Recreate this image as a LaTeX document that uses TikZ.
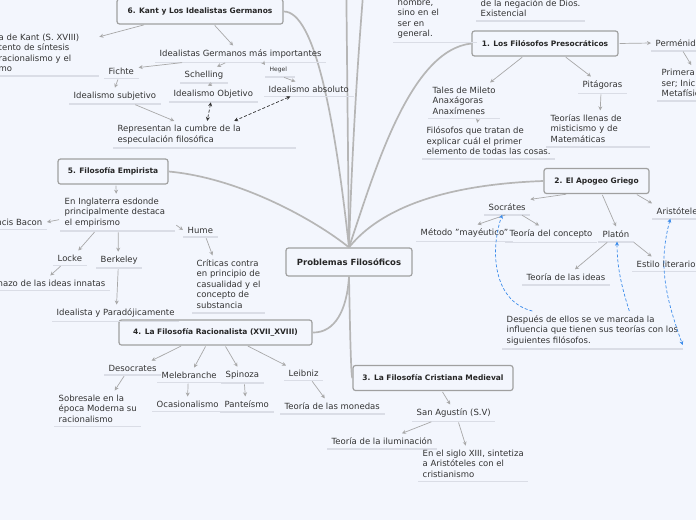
\documentclass[tikz,border=0pt]{standalone}
\usepackage{fontspec}
\setmainfont{DejaVu Sans}
\usetikzlibrary{arrows.meta}

\definecolor{bg}{RGB}{243,246,253}
\definecolor{ink}{RGB}{51,51,51}
\definecolor{rule}{RGB}{218,221,230}
\definecolor{arrowgray}{RGB}{168,168,168}
\definecolor{stemgray}{RGB}{182,182,182}
\definecolor{edgegray}{RGB}{160,160,160}
\definecolor{linkblue}{RGB}{60,140,235}

\begin{document}
\begin{tikzpicture}[x=1pt, y=-1pt,
    topic/.style={draw=edgegray, line width=1.2pt, rounded corners=2.5pt, fill=bg, text=black!85,
        font=\bfseries\fontsize{7.5}{9}\selectfont, minimum height=25pt, inner sep=0pt},
    hub/.style={topic, font=\bfseries\fontsize{8.5}{10}\selectfont, minimum height=28pt},
    idea/.style={font=\fontsize{8.5}{10.5}\selectfont, text=ink, align=left, anchor=west,
        inner xsep=4.5pt, inner ysep=4pt,
        append after command={(\tikzlastnode.south west) edge [draw=rule, line width=1.8pt] (\tikzlastnode.south east)}},
    mainline/.style={draw=stemgray, line width=1.7pt},
    childarrow/.style={draw=arrowgray, line width=0.7pt, shorten <=1pt, -{Stealth[length=4pt, width=4pt]}},
    bluelink/.style={draw=linkblue, line width=0.7pt, dash pattern=on 3pt off 2pt, -{Stealth[length=4pt, width=4pt]}},
    blacklink/.style={draw=black!80, line width=0.7pt, dash pattern=on 3pt off 2pt,
        {Stealth[length=4pt, width=4pt]}-{Stealth[length=4pt, width=4pt]}}]

    \useasboundingbox (0,0) rectangle (696,520);
    \clip (0,0) rectangle (696,520);
    \fill [bg] (0,0) rectangle (696,520);

    % ramas principales
    \node [hub, minimum width=126pt] (problemas) at (349,262) {Problemas Filosóficos};
    \node [topic, minimum width=166pt] (kant) at (200,11.5) {6. Kant y Los Idealistas Germanos};
    \node [topic, minimum width=146pt] (preso) at (545,43.5) {1. Los Filósofos Presocráticos};
    \node [topic, minimum width=105pt] (apogeo) at (596.5,181) {2. El Apogeo Griego};
    \node [topic, minimum width=110pt] (empirista) at (113,171.5) {5. Filosofía Empirista};
    \node [topic, minimum width=193pt] (racional) at (215.5,332.5) {4. La Filosofía Racionalista (XVII\_XVIII)};
    \node [topic, minimum width=160pt] (cristiana) at (433,378) {3. La Filosofía Cristiana Medieval};
    \coordinate (arriba1) at (346,-40);
    \coordinate (arriba2) at (366,-40);

    \draw [mainline] (problemas.north) .. controls (335,120) and (315,11) .. (kant.east);
    \draw [mainline] (problemas.north) .. controls (375,170) and (410,50) .. (preso.west);
    \draw [mainline] (problemas.north) .. controls (375,215) and (430,185) .. (apogeo.west);
    \draw [mainline] (problemas.north) .. controls (315,220) and (240,178) .. (empirista.east);
    \draw [mainline] (problemas.south) .. controls (347,310) and (335,333) .. (racional.east);
    \draw [mainline] (problemas.south) .. controls (350,330) and (351,378) .. (cristiana.west);
    \draw [mainline] (problemas.north) -- (arriba1);
    \draw [mainline] (problemas.north) .. controls (352,150) and (358,50) .. (arriba2);

    % textos sueltos arriba
    \node [idea, text width=75pt] (hombre) at (393,18.5) {hombre,\\sino en el\\ser en\\general.};
    \node [idea] (negacion) at (476,8) {de la negación de Dios.\\Existencial};

    % 6. Kant
    \node [idea, text width=96pt] (kanttxt) at (-6,53) {a de Kant (S. XVIII)\\tento de síntesis\\ racionalismo y el\\mo};
    \node [idea] (idealistas) at (155,54) {Idealistas Germanos más importantes};
    \node [idea] (fichte) at (104,71) {Fichte};
    \node [idea] (schelling) at (180,75) {Schelling};
    \node [idea, font=\fontsize{6}{7}\selectfont, text width=21pt] (hegel) at (265,70) {Hegel};
    \node [idea] (subjetivo) at (69,96) {Idealismo subjetivo};
    \node [idea] (objetivo) at (169,94) {Idealismo Objetivo};
    \node [idea] (absoluto) at (264,89) {Idealismo absoluto};
    \node [idea, text width=174pt] (cumbre) at (113,134.5) {Representan la cumbre de la\\especulación filosófica};

    \draw [childarrow] ([xshift=-55pt]kant.south) -- ([yshift=-7pt]kanttxt.north east);
    \draw [childarrow] ([xshift=14pt]kant.south) -- ([xshift=-7.5pt]idealistas.north);
    \draw [childarrow] ([xshift=-57.5pt]idealistas.south) -- ([yshift=-4pt]fichte.north east);
    \draw [childarrow] ([xshift=-14.5pt]idealistas.south) -- ([xshift=13pt]schelling.north);
    \draw [childarrow] ([xshift=22.5pt]idealistas.south) -- ([yshift=-2pt]hegel.north west);
    \draw [childarrow] ([xshift=-3pt]fichte.south) -- (subjetivo.north);
    \draw [childarrow] ([xshift=9pt]schelling.south) -- ([xshift=-5.5pt]objetivo.north);
    \draw [childarrow] ([xshift=3pt]hegel.south) -- ([xshift=-13.5pt]absoluto.north);
    \draw [childarrow] ([xshift=19.5pt]subjetivo.south) -- ([xshift=-30.5pt]cumbre.north);
    \draw [blacklink] ([xshift=-2.5pt]objetivo.south) -- ([xshift=2.5pt]cumbre.north);
    \draw [blacklink] ([xshift=-18.5pt]absoluto.south) -- ([xshift=29.5pt]cumbre.north);

    % 1. Presocraticos
    \node [idea] (permenides) at (651,43) {Perménides};
    \node [idea] (primera) at (657,83) {Primera\\ser; Inicio\\Metafísica};
    \node [idea] (tales) at (428,100.5) {Tales de Mileto\\Anaxágoras\\Anaxímenes};
    \node [idea] (filosofos) at (422,141) {Filósofos que tratan de\\explicar cuál el primer\\elemento de todas las cosas.};
    \node [idea] (pitagoras) at (578,85) {Pitágoras};
    \node [idea, text width=95pt] (misticismo) at (546,128.5) {Teorías llenas de\\misticismo y de\\Matemáticas};

    \draw [childarrow] (preso.east) -- (permenides.west);
    \draw [childarrow] ([xshift=2pt]permenides.south) -- ([xshift=8pt]primera.north);
    \draw [childarrow] ([xshift=-22pt]preso.south) -- ([xshift=26pt]tales.north);
    \draw [childarrow] ([xshift=14pt]tales.south) -- ([xshift=-11.5pt]filosofos.north);
    \draw [childarrow] ([xshift=20pt]preso.south) -- ([xshift=-11.5pt]pitagoras.north);
    \draw [childarrow] ([xshift=-1.5pt]pitagoras.south) -- ([xshift=2pt]misticismo.north);

    % 2. Apogeo griego
    \node [idea] (socrates) at (484,207) {Socrátes};
    \node [idea] (platon) at (598,234) {Platón};
    \node [idea] (aristoteles) at (652,211) {Aristóteles};
    \node [idea] (mayeutico) at (416,233) {Método "mayéutico"};
    \node [idea] (concepto) at (505,234) {Teoría del concepto};
    \node [idea] (ideas) at (522,277) {Teoría de las ideas};
    \node [idea] (estilo) at (632,264) {Estilo literario};
    \node [idea] (despues) at (502,330) {Después de ellos se ve marcada la\\influencia que tienen sus teorías con los\\siguientes filósofos.};

    \draw [childarrow] ([xshift=-29.5pt]apogeo.south) -- (socrates.north east);
    \draw [childarrow] ([xshift=5.5pt]apogeo.south) -- (platon.north);
    \draw [childarrow] ([xshift=39.5pt]apogeo.south) -- (aristoteles.north west);
    \draw [childarrow] ([xshift=-1pt]socrates.south) -- ([xshift=13pt]mayeutico.north);
    \draw [childarrow] ([xshift=14pt]socrates.south) -- ([xshift=-12pt]concepto.north);
    \draw [childarrow] ([xshift=-8pt]platon.south) -- ([xshift=9pt]ideas.north);
    \draw [childarrow] ([xshift=17pt]platon.south) -- ([xshift=-14.5pt]estilo.north);
    \draw [bluelink] ([xshift=-60pt]despues.north) .. controls +(-40,-10) and +(-12,35) .. ([xshift=-5pt]socrates.south);
    \draw [bluelink] ([xshift=37pt]despues.north) .. controls +(-8,-25) and +(0,25) .. ([xshift=1pt]platon.south);
    \draw [bluelink, {Stealth[length=4pt, width=4pt]}-{Stealth[length=4pt, width=4pt]}]
        ([xshift=-9pt]aristoteles.south) .. controls +(-12,45) and +(-18,-50) .. ([yshift=4pt]despues.south east);

    % 5. Empirista
    \node [idea, text width=106pt] (inglaterra) at (60,212.5) {En Inglaterra esdonde\\principalmente destaca\\el empirismo};
    \node [idea, anchor=east] (bacon) at (47,222) {Francis Bacon};
    \node [idea] (hume) at (183,230) {Hume};
    \node [idea] (locke) at (53,258) {Locke};
    \node [idea] (berkeley) at (96,260) {Berkeley};
    \node [idea, anchor=east] (rechazo) at (110,283) {Rechazo de las ideas innatas};
    \node [idea] (paradojico) at (52,313) {Idealista y Paradójicamente};
    \node [idea] (criticas) at (192,284) {Críticas contra\\en principio de\\casualidad y el\\concepto de\\substancia};

    \draw [childarrow] ([xshift=3pt]empirista.south) -- ([xshift=-1.5pt]inglaterra.north);
    \draw [childarrow] ([yshift=-7pt]inglaterra.west) -- (bacon.east);
    \draw [childarrow] ([yshift=-12pt]inglaterra.east) -- (hume.west);
    \draw [childarrow] ([xshift=-22.5pt]inglaterra.south) -- ([xshift=8.5pt]locke.north);
    \draw [childarrow] ([xshift=0.5pt]inglaterra.south) -- ([xshift=-1pt]berkeley.north);
    \draw [childarrow] ([xshift=-8.5pt]locke.south) -- ([xshift=6.5pt]rechazo.north);
    \draw [childarrow] ([xshift=-1pt]berkeley.south) -- ([xshift=1pt]paradojico.north);
    \draw [childarrow] ([xshift=5.5pt]hume.south) -- ([xshift=-16pt]criticas.north);

    % 4. Racionalista
    \node [idea] (desocrates) at (104,368) {Desocrates};
    \node [idea] (melebranche) at (157,375) {Melebranche};
    \node [idea] (spinoza) at (221,375) {Spinoza};
    \node [idea] (leibniz) at (284,373) {Leibniz};
    \node [idea] (sobresale) at (54,408.5) {Sobresale en la\\época Moderna su\\racionalismo};
    \node [idea] (ocasionalismo) at (152,404) {Ocasionalismo};
    \node [idea] (panteismo) at (220,404) {Panteísmo};
    \node [idea] (monedas) at (280,406) {Teoría de las monedas};

    \draw [childarrow] ([xshift=-33.5pt]racional.south) -- ([xshift=19pt]desocrates.north);
    \draw [childarrow] ([xshift=-9.5pt]racional.south) -- ([xshift=5pt]melebranche.north);
    \draw [childarrow] ([xshift=9.5pt]racional.south) -- ([xshift=-5pt]spinoza.north);
    \draw [childarrow] ([xshift=31.5pt]racional.south) -- ([xshift=2pt]leibniz.north west);
    \draw [childarrow] ([xshift=-8pt]desocrates.south) -- ([xshift=17pt]sobresale.north);
    \draw [childarrow] ([xshift=-1pt]melebranche.south) -- (ocasionalismo.north);
    \draw [childarrow] ([xshift=2pt]spinoza.south) -- ([xshift=-1.5pt]panteismo.north);
    \draw [childarrow] ([xshift=8pt]leibniz.south) -- ([xshift=-7.5pt]monedas.north);

    % 3. Cristiana medieval
    \node [idea] (agustin) at (412,413) {San Agustín (S.V)};
    \node [idea] (iluminacion) at (327,441) {Teoría de la iluminación};
    \node [idea] (sintetiza) at (418,463.5) {En el siglo XIII, sintetiza\\a Aristóteles con el\\cristianismo};

    \draw [childarrow] ([xshift=9pt]cristiana.south) -- ([xshift=-3.5pt]agustin.north);
    \draw [childarrow] ([xshift=-21.5pt]agustin.south) -- ([xshift=20pt]iluminacion.north);
    \draw [childarrow] ([xshift=4.5pt]agustin.south) -- ([xshift=-7.5pt]sintetiza.north);

\end{tikzpicture}
\end{document}
